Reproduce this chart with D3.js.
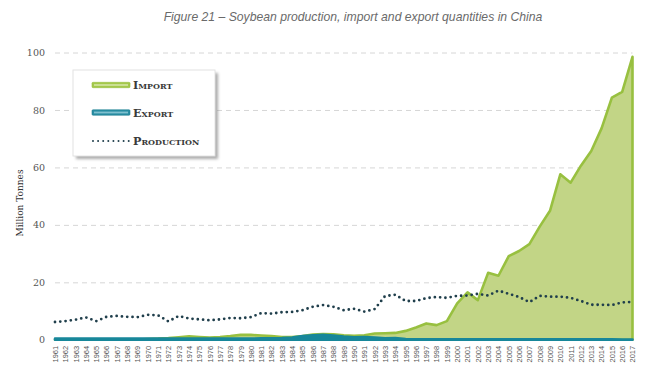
<!DOCTYPE html>
<html>
<head>
<meta charset="utf-8">
<script src="https://cdn.jsdelivr.net/npm/d3@7"></script>
<style>
  html, body { margin: 0; padding: 0; background: #fff; }
  svg { display: block; }
</style>
</head>
<body>
<svg id="chart" width="662" height="375"></svg>
<script>
// ---------- DATA ----------
const years = ["1961","1962","1963","1964","1965","1966","1967","1968","1969","1970",
  "1971","1972","1973","1974","1975","1976","1977","1978","1979","1980",
  "1981","1982","1983","1984","1985","1986","1987","1988","1989","1990",
  "1991","1992","1993","1994","1995","1996","1997","1998","1999","2000",
  "2001","2002","2003","2004","2005","2006","2007","2008","2009","2010",
  "2011","2012","2013","2014","2015","2016","2017"];

const importValues = [0,0,0,0,0,0,0,0,0.1,0.3,
  0.4,0.6,0.9,1.2,1.0,0.8,1.0,1.3,1.7,1.7,
  1.5,1.3,1.0,1.0,1.3,1.8,2.0,1.9,1.6,1.4,
  1.6,2.2,2.3,2.4,3.1,4.3,5.7,5.1,6.5,12.7,
  16.5,13.8,23.3,22.3,29.1,30.9,33.3,39.4,44.9,57.6,
  54.7,60.6,65.7,73.6,84.3,86.3,98.5];

const exportValues = [0.4,0.4,0.4,0.4,0.4,0.4,0.4,0.4,0.4,0.4,
  0.4,0.4,0.4,0.4,0.4,0.4,0.4,0.4,0.4,0.4,
  0.5,0.5,0.6,0.8,1.3,1.6,1.7,1.5,1.1,0.9,
  1.0,0.8,0.5,0.6,0.3,0.2,0.2,0.2,0.2,0.2,
  0.2,0.2,0.2,0.2,0.2,0.2,0.2,0.2,0.2,0.2,
  0.2,0.2,0.2,0.2,0.2,0.1,0.1];

const productionValues = [6.2,6.5,7.0,7.8,6.5,8.0,8.3,8.0,7.9,8.7,
  8.5,6.4,8.3,7.4,7.1,6.8,7.1,7.6,7.5,7.9,
  9.3,9.1,9.6,9.7,10.3,11.5,12.1,11.5,10.3,10.8,
  9.8,10.7,15.2,15.7,13.5,13.5,14.5,14.9,14.6,15.3,
  15.4,16.0,15.4,17.1,16.0,14.9,13.1,15.3,15.0,15.0,
  14.6,13.5,12.2,12.2,12.1,13.0,13.2];

const yTicks = [0,20,40,60,80,100];
const seriesNames = ["Import","Export","Production"];

const titleText = "Figure 21 \u2013 Soybean production, import and export quantities in China";
const yAxisTitle = "Million Tonnes";

// ---------- CHART ----------
const svg = d3.select("#chart");
const mLeft = 55, mRight = 632.5, mTop = 52.5, mBottom = 339.8;

const x = d3.scalePoint().domain(years).range([mLeft, mRight]);
const y = d3.scaleLinear().domain([0, 100]).range([mBottom, mTop]);

const colImportFill = "#c2d586", colImportLine = "#98c040";
const colExport = "#17879a";
const colProd = "#203f4c";

// defs
const defs = svg.append("defs");
const f = defs.append("filter").attr("id","shadow").attr("x","-20%").attr("y","-20%").attr("width","150%").attr("height","150%");
f.append("feGaussianBlur").attr("stdDeviation", 1.6);

// title
svg.append("text")
  .attr("x", 353).attr("y", 21)
  .attr("text-anchor", "middle")
  .style("font-family", "'Liberation Sans', Arial, sans-serif")
  .style("font-style", "italic")
  .style("font-size", "12.2px")
  .style("fill", "#6a6a6a")
  .text(titleText);

// gridlines
const grid = svg.append("g").attr("transform", `translate(${mLeft},0)`)
  .call(d3.axisLeft(y).tickValues(yTicks.filter(d => d > 0)).tickSize(-(mRight - mLeft)).tickFormat(""));
grid.select(".domain").remove();
grid.selectAll("line").attr("stroke", "#d6d6d6").attr("stroke-width", 1).attr("stroke-dasharray", "5,4");

// y labels
const yAxis = svg.append("g").attr("transform", `translate(${mLeft},0)`)
  .call(d3.axisLeft(y).tickValues(yTicks).tickSize(0).tickPadding(10));
yAxis.select(".domain").remove();
yAxis.selectAll("text")
  .style("font-family", "'DejaVu Serif', serif")
  .style("font-size", "9.5px")
  .style("fill", "#555");

// y title
svg.append("text")
  .attr("transform", "translate(23,203) rotate(-90)")
  .attr("text-anchor", "middle")
  .style("font-family", "'DejaVu Serif', serif")
  .style("font-size", "9px")
  .style("fill", "#333")
  .text(yAxisTitle);

// x labels
const xAxis = svg.append("g").attr("transform", `translate(0,${mBottom})`)
  .call(d3.axisBottom(x).tickSize(0).tickPadding(0));
xAxis.select(".domain").remove();
xAxis.selectAll("text")
  .attr("transform", "rotate(-90)")
  .attr("x", -6).attr("y", 0).attr("dy", "0.32em")
  .attr("text-anchor", "end")
  .style("font-family", "'Liberation Sans', Arial, sans-serif")
  .style("font-size", "7.5px")
  .style("fill", "#555");

// series
const importData = years.map((yr, i) => ({yr, v: importValues[i]}));
const exportData = years.map((yr, i) => ({yr, v: exportValues[i]}));
const prodData = years.map((yr, i) => ({yr, v: productionValues[i]}));

const area = d3.area().x(d => x(d.yr)).y0(y(0)).y1(d => y(d.v));
const line = d3.line().x(d => x(d.yr)).y(d => y(d.v));

svg.append("path").datum(importData)
  .attr("d", area)
  .attr("fill", colImportFill)
  .attr("stroke", colImportLine)
  .attr("stroke-width", 2.6)
  .attr("stroke-linejoin", "round");

svg.append("path").datum(exportData)
  .attr("d", area)
  .attr("fill", colExport)
  .attr("stroke", colExport)
  .attr("stroke-width", 2.6)
  .attr("stroke-linejoin", "round");

svg.append("path").datum(prodData)
  .attr("d", line)
  .attr("fill", "none")
  .attr("stroke", colProd)
  .attr("stroke-width", 2.8)
  .attr("stroke-linecap", "round")
  .attr("stroke-dasharray", "0,5.3");

// legend
const lg = svg.append("g");
lg.append("rect").attr("x", 76).attr("y", 73).attr("width", 142).attr("height", 86)
  .attr("fill", "#888").attr("opacity", 0.7).attr("filter", "url(#shadow)");
lg.append("rect").attr("x", 73).attr("y", 70).attr("width", 142).attr("height", 86)
  .attr("fill", "#fff").attr("stroke", "#e2e2e2").attr("stroke-width", 1);

const legendItems = [
  {name: seriesNames[0], y: 85, type: "bar", c: "#a4c84a", c2: "#cfe29b", stroke: "#98c040"},
  {name: seriesNames[1], y: 112.5, type: "bar", c: "#2a8ea4", c2: "#7fc0cf", stroke: "#1b7c90"},
  {name: seriesNames[2], y: 141, type: "dots", c: colProd}
];
legendItems.forEach(it => {
  if (it.type === "bar") {
    lg.append("rect").attr("x", 92).attr("y", it.y - 2.7).attr("width", 38).attr("height", 5.4)
      .attr("rx", 1).attr("fill", it.c).attr("stroke", it.stroke).attr("stroke-width", 0.6);
    lg.append("rect").attr("x", 94).attr("y", it.y - 0.9).attr("width", 34).attr("height", 1.8)
      .attr("fill", it.c2);
  } else {
    lg.append("line").attr("x1", 93).attr("x2", 129).attr("y1", it.y).attr("y2", it.y)
      .attr("stroke", it.c).attr("stroke-width", 2).attr("stroke-linecap", "round")
      .attr("stroke-dasharray", "0,5.1");
  }
  lg.append("text").attr("x", 133).attr("y", it.y).attr("dy", "0.36em")
    .style("font-family", "'DejaVu Serif', serif")
    .style("font-weight", "bold")
    .style("font-variant", "small-caps")
    .style("font-size", "11.2px")
    .style("fill", "#3a3a3a")
    .text(it.name);
});
</script>
</body>
</html>
